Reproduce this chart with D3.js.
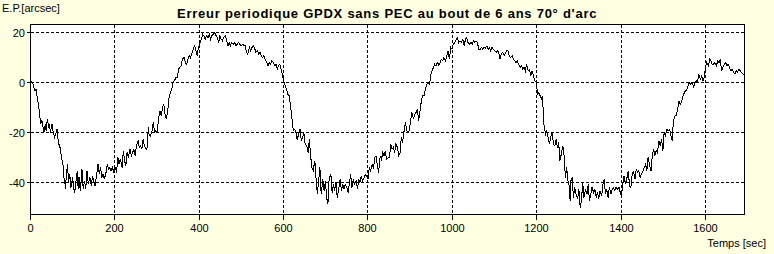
<!DOCTYPE html>
<html>
<head>
<meta charset="utf-8">
<script src="https://cdn.jsdelivr.net/npm/d3@7"></script>
<style>
html, body { margin: 0; padding: 0; background: #ffffe1; }
svg { display: block; font-family: Arial, "Liberation Sans", sans-serif; }
</style>
</head>
<body>
<svg id="chart" width="774" height="254"></svg>
<script>
// ========== DONNEES ==========
const titre = "Erreur periodique GPDX sans PEC au bout de 6 ans 70° d'arc";
const labelY = "E.P.[arcsec]";
const labelX = "Temps [sec]";
const ticksX = [0, 200, 400, 600, 800, 1000, 1200, 1400, 1600];
const ticksY = [-40, -20, 0, 20];
const domaineX = [0, 1692.5];
const domaineY = [-52.8, 23.2];

// [temps (s), erreur (arcsec)]
const mesures = [
  [0,0.7],[5,0],[8,-2],[11,-3.3],[13,-2.7],[16,-6],[21,-11.3],[24,-16.7],[27,-15.3],[29,-17.3],[32,-20],[35,-16.7],[37,-19.3],[40,-14.7],[43,-18],[45,-16.7],[47,-20],[51,-16.7],[54,-20],[57,-22],[61,-20],[63,-18.7],[66,-24],[70,-26],[73,-29.3],[75,-31.3],[77,-32.7],[79,-38],[81,-39.3],[83,-42.7],[85,-36.7],[88,-32.7],[90,-40],[93,-36.7],[96,-42],[100,-38],[103,-42.7],[105,-44],[108,-39.3],[111,-35.3],[113,-42.7],[115,-38],[118,-43.3],[120,-39.3],[122,-34.7],[125,-42.7],[128,-39.3],[131,-42.7],[134,-35.3],[137,-40.7],[141,-38],[144,-41.3],[147,-37.3],[150,-39.3],[153,-41.3],[156,-38],[160,-32.7],[163,-36.7],[166,-34],[169,-38],[172,-36.7],[175,-38.7],[179,-36],[182,-32.7],[185,-34.7],[188,-34],[191,-35.3],[194,-34],[198,-36],[201,-34],[204,-36],[207,-30],[210,-32.7],[213,-30.7],[217,-34],[220,-27.3],[223,-31.3],[226,-33.3],[229,-28],[232,-30],[236,-26.7],[239,-29.3],[242,-28],[245,-26.7],[248,-29.3],[251,-25.3],[255,-23.3],[258,-26],[261,-25.3],[264,-26.7],[267,-22.7],[270,-25.3],[274,-26.7],[277,-26],[279,-18],[281,-20.7],
  [284,-21.3],[288,-19.3],[291,-16],[294,-20],[297,-19.3],[300,-20],[304,-14],[307,-11.3],[310,-13.3],[313,-10],[316,-8.7],[319,-12.7],[322,-14.7],[326,-10],[329,-5.3],[332,-4],[335,-2.7],[338,0],[341,0.7],[345,2],[348,2],[351,5.3],[354,6],[357,6.7],[360,9.3],[364,10],[367,8],[370,7.3],[373,9.3],[376,10.7],[379,10],[383,12],[386,13.3],[389,14.7],[392,12.7],[395,10.7],[398,14],[402,16],[405,17.3],[408,19.3],[411,18.7],[414,17.3],[417,18.7],[421,18],[424,19.3],[427,17.3],[430,18.7],[433,19.3],[436,20],[440,18.7],[443,18],[446,16],[449,18.7],[452,17.3],[455,16.7],[458,18],[462,18.7],[465,16.7],[468,14.7],[471,16],[474,14.7],[477,16],[481,15.3],[484,16],[487,14.7],[490,15.3],[493,16],[496,15.3],[500,14.7],[503,15.3],[506,14.7],[509,14.7],[512,12],[515,11.3],[519,14],[522,12.7],[525,14],[528,14.7],[531,14],[534,12],[538,12.7],[541,11.3],[544,12],[547,10.7],[550,10],[553,10.7],[556,9.3],[560,8],[563,6.7],[566,8],
  [569,7.3],[572,8.7],[576,8],[579,6.7],[582,7.3],[585,5.3],[588,6.7],[591,7.3],[595,4.7],[598,2],[601,0],[604,-1.3],[607,-2.7],[610,-4.7],[613,-5.3],[617,-10],[620,-14.7],[623,-19.3],[626,-18.7],[629,-20],[632,-22.7],[636,-20.7],[639,-18.7],[642,-23.3],[645,-22],[648,-20],[651,-24.7],[655,-25.3],[658,-28],[661,-22.7],[664,-29.3],[667,-34],[670,-35.3],[674,-31.3],[677,-38.7],[680,-44.7],[683,-39.3],[686,-34],[689,-44.7],[693,-38.7],[696,-43.3],[699,-39.3],[702,-46],[705,-48.7],[708,-38],[712,-36.7],[715,-44],[718,-40.7],[721,-43.3],[724,-40],[727,-46],[731,-42],[734,-38.7],[737,-43.3],[740,-40.7],[743,-42.7],[746,-40.7],[750,-42],[753,-44],[756,-40],[759,-36.7],[762,-42],[765,-38.7],[768,-40.7],[772,-39.3],[775,-42.7],[778,-38.7],[781,-40],[784,-37.3],[787,-39.3],[791,-38],[794,-36.7],[797,-37.3],[800,-38.7],[803,-34],[806,-35.3],[810,-32.7],[813,-34.7],[816,-30],[819,-29.3],[822,-32.7],[825,-36],[829,-29.3],[832,-30.7],[835,-28],[838,-29.3],[841,-27.3],[844,-30.7],[848,-30],[851,-30],
  [854,-24.7],[857,-26.7],[860,-26],[863,-28],[866,-24.7],[870,-26],[873,-29.3],[876,-28],[879,-22],[882,-24],[885,-20],[889,-16],[892,-19.3],[895,-20],[898,-19.3],[901,-15.3],[904,-12],[908,-14.7],[911,-12.7],[914,-12],[917,-10.7],[920,-15.3],[923,-12],[927,-6.7],[930,-5.3],[933,-5.3],[936,-2.7],[939,-0.7],[942,0],[946,-0.7],[949,3.3],[952,4.7],[955,6],[958,7.3],[961,6.7],[965,8],[968,6.7],[971,8],[974,9.3],[977,8.7],[980,10],[984,8.7],[987,10.7],[990,12.7],[993,9.3],[996,14],[999,13.3],[1002,15.3],[1006,16],[1009,17.3],[1012,18],[1015,16],[1018,16.7],[1021,16],[1025,17.3],[1028,14.7],[1031,17.3],[1034,18],[1037,16],[1040,15.3],[1044,16],[1047,15.3],[1050,16.7],[1053,16],[1056,16.7],[1059,16],[1063,13.3],[1066,13.3],[1069,14],[1072,13.3],[1075,14],[1078,13.7],[1082,14.7],[1085,13.3],[1088,14],[1091,12.7],[1094,14],[1097,13.3],[1100,12.7],[1104,12],[1107,12.7],[1110,12],[1113,9.3],[1116,11.3],[1119,12],[1123,10.7],[1126,12],[1129,12.7],[1132,12.7],[1135,10.7],
  [1138,10],[1142,10.7],[1145,9.3],[1148,8.7],[1151,8],[1154,8.7],[1157,7.3],[1161,6],[1164,6.7],[1167,5.3],[1170,6],[1173,4.7],[1176,7.3],[1180,4.7],[1183,5.3],[1186,2.7],[1189,4.7],[1192,2.7],[1195,0.7],[1199,0],[1202,-4.7],[1205,-4],[1208,-5.3],[1211,-6.7],[1214,-5.3],[1216,-15.3],[1218,-18],[1221,-20.7],[1224,-19.3],[1227,-22],[1230,-24.7],[1233,-22],[1236,-20],[1240,-24.7],[1243,-25.3],[1246,-22.7],[1249,-26],[1252,-24],[1255,-31.3],[1259,-28],[1262,-25.3],[1265,-29.3],[1268,-38],[1271,-34],[1274,-39.3],[1278,-42],[1279,-47.3],[1281,-39.3],[1284,-38],[1287,-46],[1290,-42],[1293,-44.7],[1297,-46.7],[1300,-42.7],[1303,-50],[1306,-47.3],[1309,-40],[1312,-46],[1316,-42.7],[1319,-44.7],[1322,-40.7],[1325,-47.3],[1328,-44.7],[1331,-42],[1335,-44],[1338,-42.7],[1341,-46],[1344,-44],[1347,-46.7],[1350,-43.3],[1354,-45.3],[1357,-40.7],[1360,-38.7],[1363,-44.7],[1366,-42.7],[1369,-46],[1372,-42],[1376,-44.7],[1379,-42.7],[1382,-42],[1385,-43.3],[1388,-42],[1391,-42.7],[1395,-42],[1398,-44],[1401,-45.3],[1404,-40.7],[1407,-37.3],[1410,-40.7],[1414,-38],[1417,-35.3],[1420,-41.3],
  [1423,-42],[1426,-37.3],[1429,-35.3],[1433,-38.7],[1436,-34.7],[1439,-36],[1442,-35.3],[1445,-38],[1448,-36.7],[1452,-35.3],[1455,-34],[1458,-32.7],[1461,-35.3],[1464,-30],[1467,-32.7],[1471,-35.3],[1474,-29.3],[1477,-26.7],[1480,-29.3],[1483,-27.3],[1486,-28],[1490,-23.3],[1493,-25.3],[1496,-22.7],[1499,-27.3],[1502,-20],[1505,-21.3],[1509,-18.7],[1512,-19.3],[1515,-18.7],[1518,-21.3],[1521,-23.3],[1524,-15.3],[1528,-13.3],[1531,-13.3],[1534,-10.7],[1537,-7.3],[1540,-8.7],[1543,-8],[1547,-5.3],[1550,-4],[1553,-3.3],[1556,-2.7],[1559,-1.3],[1562,0],[1565,-0.7],[1569,0],[1572,-2],[1575,0],[1578,0.7],[1581,0],[1584,3.3],[1588,1.3],[1591,2.7],[1594,0.7],[1597,2],[1600,6],[1603,8],[1607,6.7],[1610,9.3],[1613,8.7],[1616,7.3],[1619,7.3],[1622,8],[1626,6.7],[1629,8.7],[1632,8],[1635,9.3],[1638,4.7],[1641,6],[1645,7.3],[1648,8],[1651,6.7],[1654,7.3],[1657,6],[1660,4.7],[1664,5.3],[1667,4],[1670,3.3],[1673,4.7],[1676,4],[1679,5.3],[1682,4.7],[1686,4],[1689,3.3],[1692,3]
];

// ========== GRAPHIQUE ==========
const svg = d3.select('#chart');
const plot = { left: 30.5, right: 744.5, top: 24.5, bottom: 214.5 };

const x = d3.scaleLinear().domain(domaineX).range([plot.left, plot.right]);
const y = d3.scaleLinear().domain(domaineY).range([plot.bottom, plot.top]);
const px = v => Math.floor(x(v)) + 0.5;
const py = v => Math.floor(y(v)) + 0.5;

svg.append('rect')
    .attr('x', plot.left).attr('y', plot.top)
    .attr('width', plot.right - plot.left).attr('height', plot.bottom - plot.top)
    .attr('fill', '#fff');

// grille
const grid = svg.append('g')
    .attr('stroke', '#000')
    .attr('stroke-width', 1)
    .attr('stroke-dasharray', '3,2')
    .attr('shape-rendering', 'crispEdges');
grid.selectAll('line.gx')
    .data(ticksX.filter(t => t > 0))
    .enter().append('line')
    .attr('class', 'gx')
    .attr('x1', px).attr('x2', px)
    .attr('y1', plot.top).attr('y2', plot.bottom);
grid.selectAll('line.gy')
    .data(ticksY)
    .enter().append('line')
    .attr('class', 'gy')
    .attr('x1', plot.left).attr('x2', plot.right)
    .attr('y1', py).attr('y2', py);

// courbe
svg.append('clipPath').attr('id', 'clip')
    .append('rect')
    .attr('x', plot.left).attr('y', plot.top)
    .attr('width', plot.right - plot.left).attr('height', plot.bottom - plot.top);

const line = d3.line()
    .x(d => x(d[0]))
    .y(d => y(d[1]));

svg.append('path')
    .datum(mesures)
    .attr('clip-path', 'url(#clip)')
    .attr('fill', 'none')
    .attr('stroke', '#000')
    .attr('stroke-width', 1)
    .attr('shape-rendering', 'crispEdges')
    .attr('d', line);

// cadre
svg.append('rect')
    .attr('x', plot.left).attr('y', plot.top)
    .attr('width', plot.right - plot.left).attr('height', plot.bottom - plot.top)
    .attr('fill', 'none')
    .attr('stroke', '#000')
    .attr('shape-rendering', 'crispEdges');

// graduations
const axes = svg.append('g')
    .attr('stroke', '#000')
    .attr('shape-rendering', 'crispEdges');
axes.selectAll('line.tx')
    .data(ticksX)
    .enter().append('line')
    .attr('x1', px).attr('x2', px)
    .attr('y1', plot.bottom).attr('y2', plot.bottom + 5);
axes.selectAll('line.ty')
    .data(ticksY)
    .enter().append('line')
    .attr('x1', plot.left - 4).attr('x2', plot.left)
    .attr('y1', py).attr('y2', py);

svg.append('g').selectAll('text')
    .data(ticksX)
    .enter().append('text')
    .attr('x', d => px(d))
    .attr('y', 232)
    .attr('text-anchor', 'middle')
    .attr('font-size', '11px')
    .text(d => d);

svg.append('g').selectAll('text')
    .data(ticksY)
    .enter().append('text')
    .attr('x', 25)
    .attr('y', d => py(d) + 4)
    .attr('text-anchor', 'end')
    .attr('font-size', '11px')
    .text(d => d);

// textes
svg.append('text')
    .attr('x', 177).attr('y', 17.5)
    .attr('font-size', '13px')
    .attr('font-weight', 'bold')
    .attr('letter-spacing', '0.75px')
    .text(titre);

svg.append('text')
    .attr('x', 2).attr('y', 12)
    .attr('font-size', '11px')
    .text(labelY);

svg.append('text')
    .attr('x', 766).attr('y', 246.5)
    .attr('text-anchor', 'end')
    .attr('font-size', '11px')
    .text(labelX);
</script>
</body>
</html>
